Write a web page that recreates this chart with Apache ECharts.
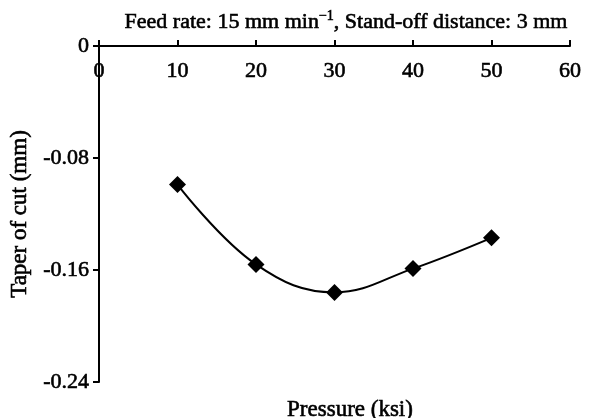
<!DOCTYPE html>
<html><head><meta charset="utf-8">
<script src="https://cdn.jsdelivr.net/npm/echarts@6/dist/echarts.min.js"></script>
<style>html,body{margin:0;padding:0;background:#fff}#c{width:600px;height:418px}</style>
</head><body><div id="c"></div>
<script>
const pressure = [10, 20, 30, 40, 50];
const taper = [-0.099, -0.156, -0.176, -0.159, -0.137];
const yTicks = [0, -0.08, -0.16, -0.24];
const F = '"Liberation Serif", "Times New Roman", serif';
const TXT = { fontFamily: F, fontSize: 22, fontWeight: 'normal', color: '#000', textBorderColor: '#000', textBorderWidth: 0.6 };
const chart = echarts.init(document.getElementById('c'));
chart.setOption({
  animation: false,
  title: [{
    text: '{a|Feed rate: 15 mm min}{s|\u22121}{a|, Stand-off distance: 3 mm}',
    left: 341, top: 4, textAlign: 'center',
    textStyle: { rich: {
      a: Object.assign({}, TXT),
      s: Object.assign({}, TXT, { fontSize: 14, verticalAlign: 'top', padding: [0,0,12,0] })
    } }
  }, {
    text: 'Pressure (ksi)', left: 345, top: 393, textAlign: 'center',
    textStyle: Object.assign({}, TXT, { fontSize: 23 })
  }],
  grid: { left: 99, right: 30, top: 46, bottom: 36, containLabel: false, outerBoundsMode: 'none' },
  xAxis: {
    type: 'value', position: 'top', min: 0, max: 60, interval: 10,
    axisLine: { onZero: false, lineStyle: { color: '#000', width: 2 } },
    axisTick: { show: true, length: 6, lineStyle: { color: '#000', width: 2 } },
    axisLabel: Object.assign({ inside: true, margin: 14 }, TXT),
    splitLine: { show: false }
  },
  yAxis: {
    type: 'value', min: -0.24, max: 0, interval: 0.08,
    name: 'Taper of cut (mm)', nameLocation: 'middle', nameGap: 68, nameRotate: 90,
    nameTextStyle: Object.assign({}, TXT, { fontSize: 23 }),
    axisLine: { onZero: false, lineStyle: { color: '#000', width: 2 } },
    axisTick: { show: true, length: 6, lineStyle: { color: '#000', width: 2 } },
    axisLabel: Object.assign({ margin: 10,
      formatter: v => { const m = yTicks.find(t => Math.abs(t - v) < 1e-9); return m === 0 ? '0' : (m !== undefined ? m.toFixed(2) : ''); } }, TXT),
    splitLine: { show: false }
  },
  series: [{
    type: 'line', data: pressure.map((p, i) => [p, taper[i]]),
    smooth: 0.4, symbol: 'diamond', symbolSize: 17,
    lineStyle: { color: '#000', width: 2 }, itemStyle: { color: '#000' }
  }]
});
</script></body></html>
